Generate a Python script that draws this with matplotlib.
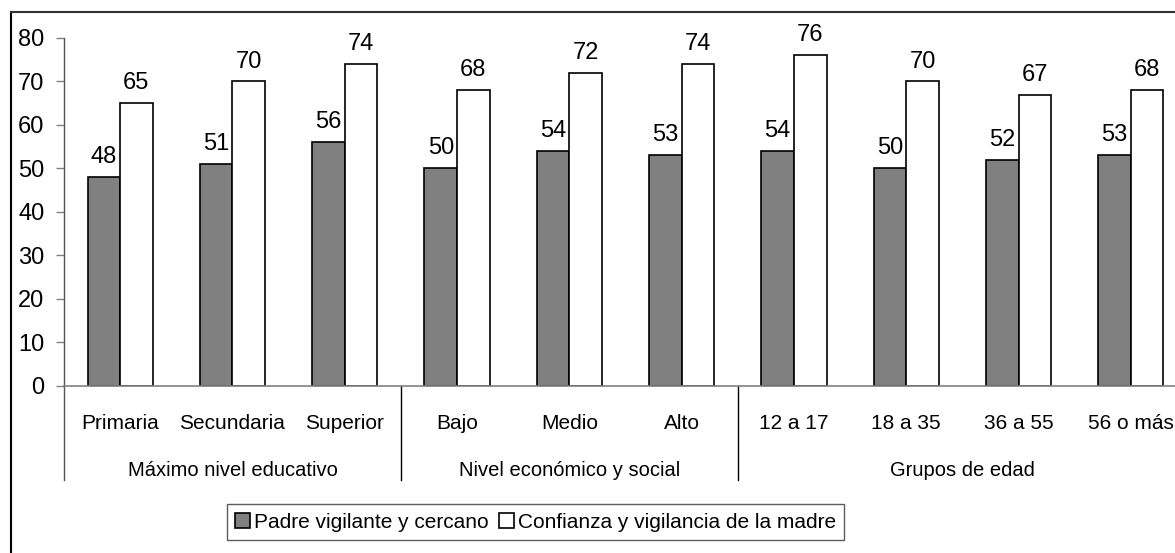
import matplotlib
matplotlib.use("Agg")
import matplotlib.pyplot as plt
from matplotlib.patches import Patch
from matplotlib.lines import Line2D

plt.rcParams['font.family'] = ['Liberation Sans', 'DejaVu Sans']

categories = ["Primaria", "Secundaria", "Superior", "Bajo", "Medio", "Alto",
              "12 a 17", "18 a 35", "36 a 55", "56 o más"]
groups = ["Máximo nivel educativo", "Nivel económico y social", "Grupos de edad"]
group_sizes = [3, 3, 4]
padre = [48, 51, 56, 50, 54, 53, 54, 50, 52, 53]
madre = [65, 70, 74, 68, 72, 74, 76, 70, 67, 68]
series_names = ["Padre vigilante y cercano", "Confianza y vigilancia de la madre"]
yticks = [0, 10, 20, 30, 40, 50, 60, 70, 80]

W, H = 1175, 553
fig = plt.figure(figsize=(W / 100, H / 100), dpi=100)

ax_l, ax_r, ax_t, ax_b = 64, 64 + 10 * 112.3, 38, 385.7
ax = fig.add_axes([ax_l / W, 1 - ax_b / H, (ax_r - ax_l) / W, (ax_b - ax_t) / H])

n = len(categories)
x = list(range(n))
bw = 0.29
ax.bar([i - bw / 2 for i in x], padre, width=bw, color="#808080", edgecolor="black", linewidth=1.2)
ax.bar([i + bw / 2 for i in x], madre, width=bw, color="white", edgecolor="black", linewidth=1.2)

for i in x:
    ax.annotate(str(padre[i]), (i - bw / 2, padre[i]), xytext=(0, 10), textcoords="offset points",
                ha="center", va="baseline", fontsize=17)
    ax.annotate(str(madre[i]), (i + bw / 2, madre[i]), xytext=(0, 10), textcoords="offset points",
                ha="center", va="baseline", fontsize=17)

ax.set_xlim(-0.5, n - 0.5)
ax.set_ylim(0, 80)
ax.set_yticks(yticks)
ax.tick_params(axis="y", direction="out", length=6, width=1, color="#808080", labelsize=17, pad=8)
ax.set_xticks([])
for s in ["top", "right"]:
    ax.spines[s].set_visible(False)
ax.spines["bottom"].set_color("#808080")
ax.spines["bottom"].set_linewidth(1.2)
ax.spines["left"].set_color("#555555")
ax.spines["left"].set_linewidth(1.0)

def ay(py):
    return (ax_b - py) / (ax_b - ax_t)

for i, c in enumerate(categories):
    ax.text(i, ay(429), c, ha="center", va="baseline", fontsize=15, transform=ax.get_xaxis_transform())

start = 0
sep_positions = [-0.5]
for g, sz in zip(groups, group_sizes):
    center = start + (sz - 1) / 2
    ax.text(center, ay(476), g, ha="center", va="baseline", fontsize=14.5, transform=ax.get_xaxis_transform())
    start += sz
    sep_positions.append(start - 0.5)
for sp in sep_positions:
    ax.add_line(Line2D([sp, sp], [0, ay(480)], transform=ax.get_xaxis_transform(),
                       color="black" if sp > -0.5 else "#555555", linewidth=1.0, clip_on=False))

fig.add_artist(Line2D([10.5 / W, 10.5 / W], [0, 1 - 12 / H], transform=fig.transFigure, color="black", linewidth=1.5))
fig.add_artist(Line2D([10.5 / W, 1], [1 - 12 / H, 1 - 12 / H], transform=fig.transFigure, color="#333333", linewidth=1.5))

handles = [Patch(facecolor="#808080", edgecolor="black", linewidth=1.2),
           Patch(facecolor="white", edgecolor="black", linewidth=1.2)]
leg = fig.legend(handles, series_names, loc="center", bbox_to_anchor=(535.5 / W, 1 - 522 / H),
                 ncol=2, fontsize=15, frameon=True, fancybox=False, edgecolor="#333333",
                 handlelength=0.7, handleheight=0.7, handletextpad=0.2, columnspacing=0.5,
                 borderpad=0.4, borderaxespad=0)
leg.get_frame().set_linewidth(1.0)

fig.savefig("out.png", dpi=100)
